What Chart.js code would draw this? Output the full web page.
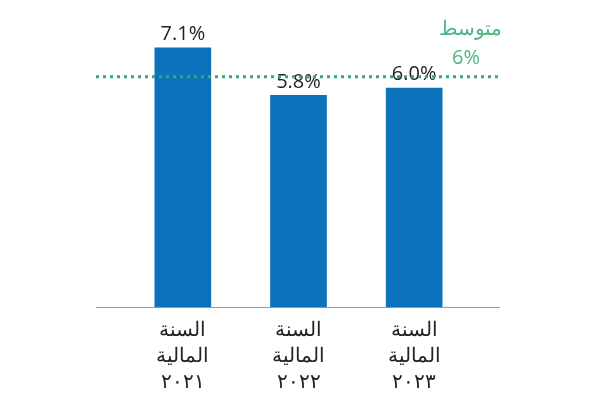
<!DOCTYPE html>
<html><head><meta charset="utf-8">
<script src="https://cdn.jsdelivr.net/npm/chart.js@4"></script>
<style>html,body{margin:0;background:#fff}#wrap{width:600px;height:405px}</style>
</head><body><div id="wrap"><canvas id="c"></canvas></div>
<script>
const categories = [['السنة', 'المالية', '٢٠٢١'], ['السنة', 'المالية', '٢٠٢٢'], ['السنة', 'المالية', '٢٠٢٣']];
const values = [7.1, 5.8, 6.0];
const valueLabels = ['7.1%', '5.8%', '6.0%'];
const avgValue = 6.3;
const avgLabel = ['متوسط', '6%'];

/* bar value labels, baseline, average line */
const extras = {
  id: 'extras',
  afterDatasetsDraw(chart) {
    const ctx = chart.ctx, a = chart.chartArea, y = chart.scales.y;
    ctx.save();
    ctx.strokeStyle = '#999'; ctx.lineWidth = 1;
    ctx.beginPath(); ctx.moveTo(96, a.bottom + 0.5); ctx.lineTo(500, a.bottom + 0.5); ctx.stroke();

    ctx.font = '20px "Open Sans", sans-serif'; ctx.fillStyle = '#222';
    ctx.textAlign = 'center'; ctx.textBaseline = 'bottom';
    chart.getDatasetMeta(0).data.forEach((b, i) => ctx.fillText(valueLabels[i], b.x, b.y - 3));

    const ay = y.getPixelForValue(avgValue);
    ctx.strokeStyle = '#3aa57a'; ctx.lineWidth = 3; ctx.setLineDash([3, 4]);
    ctx.beginPath(); ctx.moveTo(96, ay); ctx.lineTo(500, ay); ctx.stroke();
    ctx.setLineDash([]);
    ctx.fillStyle = '#4fb585'; ctx.textAlign = 'right'; ctx.textBaseline = 'middle';
    ctx.fillText(avgLabel[0], 502, 29);
    ctx.fillText(avgLabel[1], 480, 58);
    ctx.restore();
  }
};

new Chart(document.getElementById('c').getContext('2d'), {
  type: 'bar',
  data: {
    labels: categories,
    datasets: [{
      data: values,
      backgroundColor: '#0b72bb',
      barPercentage: 0.49,
      categoryPercentage: 1,
    }],
  },
  options: {
    responsive: true,
    maintainAspectRatio: false,
    animation: false,
    layout: { padding: { left: 125, right: 128, top: 0, bottom: 0 } },
    plugins: { legend: { display: false }, tooltip: { enabled: false } },
    scales: {
      x: {
        grid: { display: false, drawTicks: false },
        border: { display: false },
        ticks: { color: '#222', font: { size: 20, family: '"Noto Sans", sans-serif', lineHeight: 1.3 }, padding: 10, maxRotation: 0 },
      },
      y: { display: false, min: 0, max: 8.4 },
    },
  },
  plugins: [extras],
});
</script></body></html>
